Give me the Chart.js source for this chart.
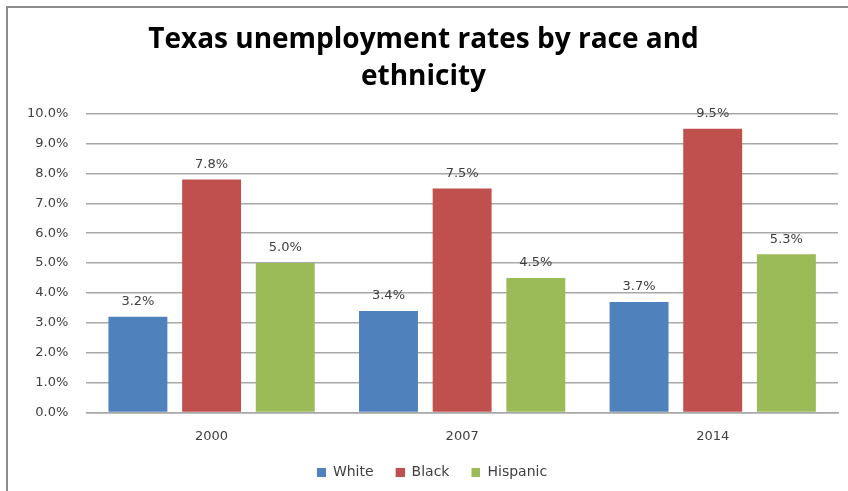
<!DOCTYPE html>
<html>
<head>
<meta charset="utf-8">
<script src="https://cdn.jsdelivr.net/npm/chart.js@4/dist/chart.umd.min.js"></script>
<style>
  html, body { margin: 0; padding: 0; background: #fff; }
  #wrap { position: relative; width: 848px; height: 491px; }
</style>
</head>
<body>
<div id="wrap"><canvas id="c"></canvas></div>
<script>
const categories = ['2000', '2007', '2014'];
const seriesNames = ['White', 'Black', 'Hispanic'];
const whiteValues = [3.2, 3.4, 3.7];
const blackValues = [7.8, 7.5, 9.5];
const hispanicValues = [5.0, 4.5, 5.3];
const yTicks = [0, 1, 2, 3, 4, 5, 6, 7, 8, 9, 10];
const titleLines = ['Texas unemployment rates by race and', 'ethnicity'];

const colors = ['#4F81BD', '#C0504D', '#9BBB59'];
const tickFont = { family: 'DejaVu Sans', size: 13 };
const legendFont = { family: 'DejaVu Sans', size: 14 };
const textColor = '#404040';

// legend icons: 9px square on the right of a wider transparent box (adds gap between items)
const ICON_GAP = 17, ICON = 9;
const legendIcons = colors.map(c => {
  const cv = document.createElement('canvas');
  cv.width = ICON + ICON_GAP; cv.height = ICON;
  const g = cv.getContext('2d');
  g.fillStyle = c;
  g.fillRect(ICON_GAP, 0, ICON, ICON);
  return cv;
});

const frame = {
  id: 'frame',
  beforeDraw(chart) {
    const ctx = chart.ctx;
    ctx.save();
    ctx.fillStyle = '#fff';
    ctx.fillRect(0, 0, chart.width, chart.height);
    ctx.strokeStyle = '#8c8c8c';
    ctx.lineWidth = 2;
    ctx.beginPath();
    ctx.moveTo(chart.width, 7);
    ctx.lineTo(7, 7);
    ctx.lineTo(7, chart.height);
    ctx.stroke();
    ctx.restore();
  }
};

const dataLabels = {
  id: 'dataLabels',
  afterDatasetsDraw(chart) {
    const ctx = chart.ctx;
    ctx.save();
    ctx.font = '13px "DejaVu Sans"';
    ctx.fillStyle = textColor;
    ctx.textAlign = 'center';
    ctx.textBaseline = 'middle';
    chart.data.datasets.forEach((ds, i) => {
      const meta = chart.getDatasetMeta(i);
      meta.data.forEach((el, j) => {
        ctx.fillText(ds.data[j].toFixed(1) + '%', el.x, el.y - 15);
      });
    });
    ctx.restore();
  }
};

new Chart(document.getElementById('c'), {
  type: 'bar',
  data: {
    labels: categories,
    datasets: [
      { label: seriesNames[0], data: whiteValues, backgroundColor: colors[0] },
      { label: seriesNames[1], data: blackValues, backgroundColor: colors[1] },
      { label: seriesNames[2], data: hispanicValues, backgroundColor: colors[2] }
    ]
  },
  options: {
    responsive: true,
    maintainAspectRatio: false,
    animation: false,
    devicePixelRatio: 1,
    layout: { padding: { left: 9, right: 10, top: 0, bottom: 2 } },
    datasets: { bar: { categoryPercentage: 0.882, barPercentage: 0.80 } },
    scales: {
      x: {
        grid: { display: false, drawTicks: false },
        border: { display: true, color: '#a8a8a8', width: 1.5 },
        ticks: { font: tickFont, color: textColor, padding: 16 }
      },
      y: {
        min: 0, max: 10,
        afterBuildTicks(axis) { axis.ticks = yTicks.map(v => ({ value: v })); },
        grid: { color: '#a8a8a8', lineWidth: 1.5, drawTicks: false },
        border: { display: false },
        ticks: {
          font: tickFont, color: textColor, padding: 18,
          callback: v => v.toFixed(1) + '%'
        }
      }
    },
    plugins: {
      title: {
        display: true,
        text: titleLines,
        font: { family: 'Open Sans', size: 28, weight: 'bold', lineHeight: 1.3 },
        color: '#000',
        padding: { top: 22, bottom: 19 }
      },
      legend: {
        position: 'bottom',
        labels: {
          font: legendFont, color: textColor,
          usePointStyle: true,
          pointStyleWidth: ICON + ICON_GAP,
          boxHeight: ICON,
          padding: 5,
          generateLabels(chart) {
            const items = Chart.defaults.plugins.legend.labels.generateLabels(chart);
            items.forEach((it, i) => { it.pointStyle = legendIcons[i]; });
            return items;
          }
        }
      },
      tooltip: { enabled: false }
    }
  },
  plugins: [frame, dataLabels]
});
</script>
</body>
</html>
